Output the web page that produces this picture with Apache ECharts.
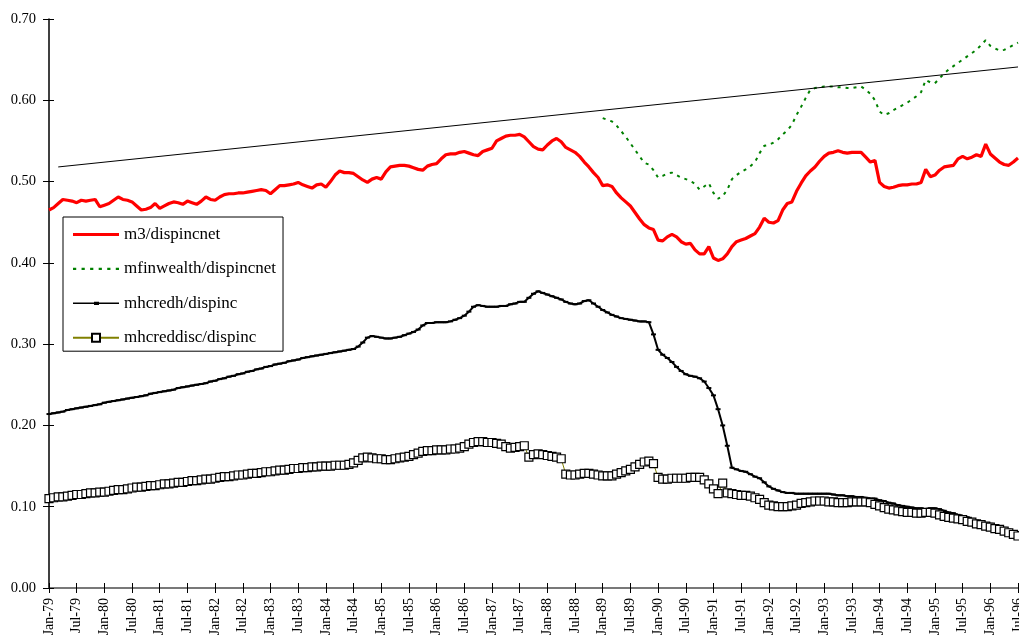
<!DOCTYPE html>
<html>
<head>
<meta charset="utf-8">
<script src="https://cdn.jsdelivr.net/npm/echarts@6/dist/echarts.min.js"></script>
<style>
  html, body { margin: 0; padding: 0; background: #fff; }
  #chart { width: 1019px; height: 639px; }
</style>
</head>
<body>
<div id="chart"></div>
<script>
// Monthly series, Jan-79 .. Jul-96
const MONTH_NAMES = ['Jan','Feb','Mar','Apr','May','Jun','Jul','Aug','Sep','Oct','Nov','Dec'];
const FIRST_YEAR = 79;
const MONTH_COUNT = 211;

const m3Dispincnet = [
  .465,.468,.473,.478,.477,.476,.474,.477,.476,.477,
  .478,.469,.471,.473,.477,.481,.478,.477,.475,.470,
  .465,.466,.468,.473,.467,.470,.473,.475,.474,.472,
  .476,.474,.472,.476,.481,.478,.477,.481,.484,.485,
  .485,.486,.486,.487,.488,.489,.490,.489,.485,.490,
  .495,.495,.496,.497,.499,.496,.494,.492,.496,.497,
  .493,.500,.508,.513,.511,.511,.510,.506,.502,.499,
  .503,.505,.503,.512,.518,.519,.520,.520,.519,.517,
  .515,.514,.519,.521,.522,.528,.533,.534,.534,.536,
  .537,.535,.533,.532,.537,.539,.541,.550,.553,.556,
  .557,.557,.558,.555,.549,.543,.540,.539,.545,.550,
  .553,.549,.542,.539,.536,.531,.524,.518,.511,.505,
  .495,.496,.494,.486,.480,.475,.470,.462,.454,.447,
  .443,.441,.428,.427,.432,.435,.432,.426,.423,.424,
  .416,.411,.411,.420,.406,.403,.405,.411,.420,.426,
  .428,.430,.433,.436,.444,.455,.450,.449,.452,.465,
  .473,.475,.488,.498,.507,.513,.518,.525,.531,.535,
  .536,.538,.536,.535,.536,.536,.536,.530,.524,.526,
  .499,.494,.492,.493,.495,.496,.496,.497,.497,.499,
  .515,.506,.508,.514,.518,.519,.520,.528,.531,.528,
  .530,.533,.531,.546,.534,.529,.524,.521,.520,.524,
  .529
];

// mfinwealth/dispincnet is available from Jan-89 onwards
const MFIN_FIRST_MONTH = 120;
const mfinwealthDispincnet = [
  .578,.576,.574,.569,.562,.555,.547,.539,.531,.523,
  .521,.514,.505,.507,.510,.511,.508,.505,.503,.501,
  .497,.490,.494,.498,.486,.479,.482,.490,.503,.508,
  .512,.515,.519,.524,.535,.544,.545,.548,.552,.558,
  .563,.570,.582,.592,.603,.613,.615,.616,.617,.617,
  .617,.616,.616,.615,.615,.616,.617,.613,.608,.600,
  .586,.582,.584,.588,.591,.594,.597,.601,.605,.610,
  .625,.622,.621,.627,.633,.638,.642,.646,.650,.654,
  .658,.662,.668,.674,.667,.664,.661,.662,.665,.668,
  .671
];

const mhcredhDispinc = [
  .214,.215,.216,.217,.219,.220,.221,.222,.223,.224,
  .225,.226,.228,.229,.230,.231,.232,.233,.234,.235,
  .236,.237,.239,.240,.241,.242,.243,.244,.246,.247,
  .248,.249,.250,.251,.252,.254,.255,.257,.258,.260,
  .261,.263,.264,.266,.267,.269,.270,.272,.273,.275,
  .276,.277,.279,.280,.281,.283,.284,.285,.286,.287,
  .288,.289,.290,.291,.292,.293,.294,.297,.302,.308,
  .310,.309,.308,.307,.307,.308,.309,.311,.313,.315,
  .318,.323,.326,.326,.327,.327,.327,.328,.330,.332,
  .335,.340,.346,.348,.347,.346,.346,.346,.347,.347,
  .349,.350,.352,.352,.357,.362,.365,.363,.361,.359,
  .357,.355,.352,.350,.349,.350,.353,.354,.350,.346,
  .342,.339,.336,.334,.332,.331,.330,.329,.328,.328,
  .327,.312,.293,.287,.283,.278,.272,.267,.263,.261,
  .260,.258,.254,.246,.237,.220,.200,.175,.148,.146,
  .144,.143,.140,.137,.135,.130,.125,.122,.120,.118,
  .117,.117,.116,.116,.116,.116,.116,.116,.116,.116,
  .115,.114,.114,.113,.113,.112,.112,.111,.110,.110,
  .108,.107,.105,.104,.102,.101,.100,.099,.098,.098,
  .097,.098,.098,.097,.095,.093,.092,.090,.088,.087,
  .085,.083,.082,.080,.079,.077,.075,.074,.072,.070,
  .069
];

const mhcreddiscDispinc = [
  .110,.111,.112,.112,.113,.114,.115,.115,.116,.117,
  .117,.118,.118,.119,.120,.121,.121,.122,.123,.124,
  .124,.125,.126,.126,.127,.128,.128,.129,.130,.130,
  .131,.132,.132,.133,.134,.134,.135,.136,.137,.137,
  .138,.139,.139,.140,.141,.141,.142,.143,.143,.144,
  .145,.145,.146,.147,.147,.148,.148,.149,.149,.150,
  .150,.150,.151,.151,.151,.152,.154,.157,.160,.161,
  .160,.159,.159,.158,.158,.159,.160,.161,.162,.164,
  .166,.168,.169,.169,.170,.170,.170,.171,.171,.172,
  .174,.177,.179,.180,.180,.179,.179,.178,.177,.174,
  .172,.173,.174,.175,.161,.164,.165,.164,.163,.162,
  .161,.159,.140,.139,.139,.140,.141,.141,.140,.139,
  .138,.138,.138,.140,.142,.144,.146,.149,.152,.155,
  .156,.153,.136,.134,.134,.135,.135,.135,.135,.136,
  .136,.136,.133,.128,.122,.116,.129,.117,.116,.115,
  .114,.114,.113,.111,.109,.105,.102,.101,.100,.100,
  .100,.101,.102,.104,.105,.106,.107,.107,.107,.106,
  .106,.105,.105,.105,.106,.106,.106,.106,.105,.103,
  .101,.099,.097,.096,.095,.094,.093,.093,.092,.092,
  .093,.093,.092,.090,.088,.087,.086,.085,.084,.082,
  .081,.079,.078,.076,.075,.073,.072,.070,.068,.066,
  .064
];

// Straight reference line: start and end points
const trendMonths = [2, 210];
const trendValues = [0.518, 0.641];

const yTicks = { min: 0, max: 0.7, step: 0.1 };

// Category labels "Jan-79", "Feb-79", ...
const categories = [];
for (let i = 0; i < MONTH_COUNT; i++) {
  const yy = FIRST_YEAR + Math.floor(i / 12);
  categories.push(MONTH_NAMES[i % 12] + '-' + String(yy).padStart(2, '0'));
}

const mfinSeries = categories.map((_, i) =>
  i < MFIN_FIRST_MONTH ? null : mfinwealthDispincnet[i - MFIN_FIRST_MONTH]);

const trendSeries = categories.map(() => null);
trendMonths.forEach((m, k) => { trendSeries[m] = trendValues[k]; });

const SERIF = 'Liberation Serif, Times New Roman, serif';

const chart = echarts.init(document.getElementById('chart'), null, { renderer: 'canvas' });

chart.setOption({
  animation: false,
  backgroundColor: '#fff',
  grid: { left: 49, right: 1, top: 19, bottom: 51, containLabel: false, outerBoundsMode: 'none' },
  legend: {
    orient: 'vertical',
    left: 63,
    top: 217,
    padding: [9, 7, 5, 9],
    itemWidth: 46,
    itemHeight: 10,
    itemGap: 17.4,
    borderColor: '#000',
    borderWidth: 1,
    backgroundColor: '#fff',
    textStyle: { fontFamily: SERIF, fontSize: 17, color: '#000' },
    data: [
      { name: 'm3/dispincnet', icon: 'path://M0,0H46V3H0Z' },
      { name: 'mfinwealth/dispincnet', icon: 'path://M0,0H3V2H0Z M8,0H11V2H8Z M16,0H19V2H16Z M24,0H27V2H24Z M32,0H35V2H32Z M40,0H43V2H40Z' },
      { name: 'mhcredh/dispinc', icon: 'path://M0,4H46V5.6H0Z M21,3.2H26V6.4H21Z' },
      'mhcreddisc/dispinc'
    ]
  },
  xAxis: [
    {
      type: 'category',
      data: categories,
      boundaryGap: false,
      position: 'bottom',
      axisLine: { lineStyle: { color: '#000', width: 1.5 } },
      axisTick: { show: true, interval: 5, length: 5, lineStyle: { color: '#000', width: 1 } },
      axisLabel: {
        interval: 5, rotate: 90, margin: 10,
        fontFamily: SERIF, fontSize: 14, color: '#000'
      },
      splitLine: { show: false }
    },
    {
      // upper frame line at 0.70
      type: 'category',
      data: categories,
      boundaryGap: false,
      position: 'top',
      axisLine: { lineStyle: { color: '#8c8c8c', width: 1.5 } },
      axisTick: { show: false },
      axisLabel: { show: false },
      splitLine: { show: false }
    },
    {
      // inner half of the crossing x ticks
      type: 'category',
      data: categories,
      boundaryGap: false,
      position: 'bottom',
      axisLine: { show: false },
      axisTick: { show: true, inside: true, interval: 5, length: 5, lineStyle: { color: '#000', width: 1 } },
      axisLabel: { show: false },
      splitLine: { show: false }
    }
  ],
  yAxis: [
    {
      type: 'value',
      min: yTicks.min, max: yTicks.max, interval: yTicks.step,
      axisLine: { show: true, lineStyle: { color: '#000', width: 1.5 } },
      axisTick: { show: true, length: 6, lineStyle: { color: '#000', width: 1 } },
      axisLabel: {
        margin: 13, fontFamily: SERIF, fontSize: 14.5, color: '#000',
        formatter: v => v.toFixed(2)
      },
      splitLine: { show: false }
    },
    {
      // inner half of the crossing y ticks
      type: 'value',
      min: yTicks.min, max: yTicks.max, interval: yTicks.step,
      position: 'left',
      axisLine: { show: false },
      axisTick: { show: true, inside: true, length: 5, lineStyle: { color: '#000', width: 1 } },
      axisLabel: { show: false },
      splitLine: { show: false }
    }
  ],
  series: [
    {
      name: 'm3/dispincnet',
      type: 'line',
      data: m3Dispincnet,
      symbol: 'none',
      color: '#ff0000',
      lineStyle: { color: '#ff0000', width: 3.2 },
      z: 3
    },
    {
      name: 'mfinwealth/dispincnet',
      type: 'line',
      data: mfinSeries,
      symbol: 'none',
      color: '#008000',
      lineStyle: { color: '#008000', width: 2, type: [3, 5] },
      z: 3
    },
    {
      name: 'mhcredh/dispinc',
      type: 'line',
      data: mhcredhDispinc,
      symbol: 'path://M0,0H5V2H0Z',
      symbolSize: [5, 2],
      showAllSymbol: true,
      color: '#000',
      itemStyle: { color: '#000' },
      lineStyle: { color: '#000', width: 2 },
      z: 4
    },
    {
      name: 'mhcreddisc/dispinc',
      type: 'line',
      data: mhcreddiscDispinc,
      symbol: 'rect',
      symbolSize: 8,
      showAllSymbol: true,
      color: '#808000',
      itemStyle: { color: '#fff', borderColor: '#000', borderWidth: 1.2 },
      lineStyle: { color: '#808000', width: 1 },
      z: 5
    },
    {
      name: 'trend',
      type: 'line',
      data: trendSeries,
      connectNulls: true,
      symbol: 'none',
      lineStyle: { color: '#000', width: 1 },
      z: 6
    }
  ]
});
</script>
</body>
</html>
